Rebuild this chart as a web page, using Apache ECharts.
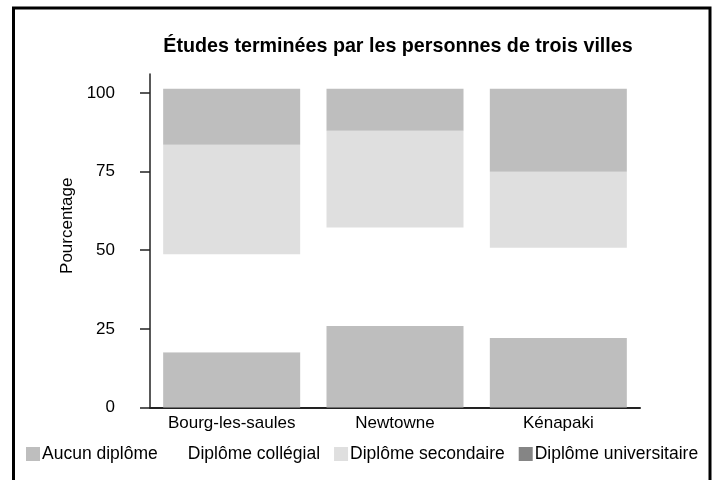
<!DOCTYPE html>
<html>
<head>
<meta charset="utf-8">
<script src="https://cdn.jsdelivr.net/npm/echarts@6/dist/echarts.min.js"></script>
<style>
  html, body { margin: 0; padding: 0; background: #fff; }
  #chart { width: 712px; height: 480px; }
</style>
</head>
<body>
<div id="chart"></div>
<script>
// Niveau d'études par ville (en %)
const villes = ['Bourg-les-saules', 'Newtowne', 'Kénapaki'];
const aucunDiplome = [17.6, 25.9, 22.1];
const diplomeCollegial = [31.1, 31.3, 28.7];
const diplomeSecondaire = [34.8, 30.8, 24.1];
const diplomeUniversitaire = [17.8, 13.3, 26.4];
const graduations = [0, 25, 50, 75, 100];

const font = 'Liberation Sans, Arial, sans-serif';
const chart = echarts.init(document.getElementById('chart'), null, { renderer: 'canvas' });

function serie(nom, valeurs, couleur) {
  return {
    name: nom,
    type: 'bar',
    stack: 'total',
    barWidth: 137,
    data: valeurs,
    itemStyle: { color: couleur },
    emphasis: { disabled: true }
  };
}

chart.setOption({
  animation: false,
  backgroundColor: '#fff',
  title: {
    text: 'Études terminées par les personnes de trois villes',
    left: 393,
    textAlign: 'center',
    top: 32,
    textStyle: { fontFamily: font, fontSize: 19.7, fontWeight: 'bold', color: '#000' }
  },
  graphic: [{
    type: 'rect',
    shape: { x: 13.5, y: 8, width: 696.5, height: 490 },
    style: { fill: 'none', stroke: '#000', lineWidth: 3 },
    silent: true
  }],
  legend: {
    left: 26,
    top: 445,
    padding: 0,
    itemWidth: 14,
    itemHeight: 14,
    itemGap: 14,
    icon: 'rect',
    selectedMode: false,
    textStyle: { fontFamily: font, fontSize: 17.5, color: '#000', padding: [0, 0, 0, -3] },
    data: [
      { name: 'Aucun diplôme' },
      { name: 'Diplôme collégial' },
      { name: 'Diplôme secondaire' },
      { name: 'Diplôme universitaire', itemStyle: { color: '#858585' } }
    ]
  },
  grid: { left: 150, right: 72, top: 74, bottom: 72.5, containLabel: false },
  xAxis: {
    type: 'category',
    data: villes,
    axisLine: { show: true, lineStyle: { color: '#222', width: 2 } },
    axisTick: { show: false },
    axisLabel: { fontFamily: font, fontSize: 17, color: '#000', margin: 7, interval: 0, hideOverlap: false }
  },
  yAxis: {
    type: 'value',
    min: 0,
    max: 106,
    name: 'Pourcentage',
    nameLocation: 'middle',
    nameGap: 74,
    nameTextStyle: { fontFamily: font, fontSize: 17, color: '#000', padding: [0, 0, 0, 30] },
    splitLine: { show: false },
    axisLine: { show: true, lineStyle: { color: '#222', width: 1.5 } },
    axisTick: { show: true, length: 10, customValues: graduations, lineStyle: { color: '#222', width: 1.5 } },
    axisLabel: { fontFamily: font, fontSize: 17, color: '#000', margin: 35, customValues: graduations }
  },
  series: [
    serie('Aucun diplôme', aucunDiplome, '#bebebe'),
    serie('Diplôme collégial', diplomeCollegial, '#ffffff'),
    serie('Diplôme secondaire', diplomeSecondaire, '#dfdfdf'),
    serie('Diplôme universitaire', diplomeUniversitaire, '#bebebe')
  ]
});
</script>
</body>
</html>
